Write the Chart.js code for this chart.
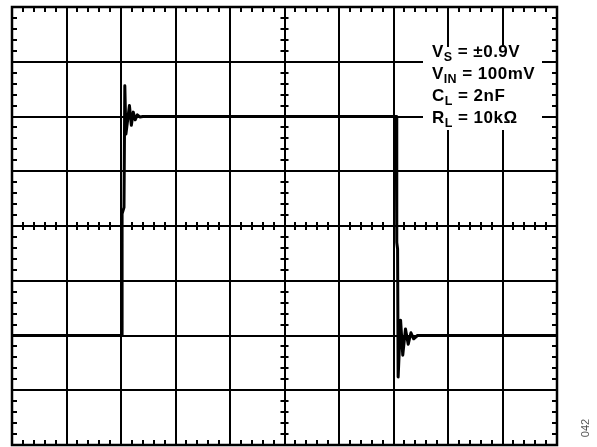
<!DOCTYPE html>
<html><head><meta charset="utf-8">
<script src="https://cdn.jsdelivr.net/npm/chart.js@4"></script>
<style>
html,body{margin:0;padding:0;background:#fff}
#wrap{position:relative;width:597px;height:447px;overflow:hidden;background:#fff}
canvas{position:absolute;left:0;top:0}
#legend{position:absolute;left:423px;top:47px;width:119px;height:83px;background:#fff;font-family:"Liberation Sans",Arial,sans-serif;font-weight:bold;font-size:17px;color:#000;letter-spacing:0.5px}
.ln{position:absolute;left:9px;white-space:nowrap;line-height:22px}
.sb{font-size:12.5px;position:relative;top:4px;letter-spacing:0.3px}
#fig{position:absolute;left:570px;top:422px;width:30px;height:12px;font-family:"Liberation Sans",Arial,sans-serif;font-size:11px;color:#555;line-height:12px;text-align:center;transform:rotate(-90deg);transform-origin:50% 50%}
</style>
</head><body>
<div id="wrap">
<canvas id="c" width="597" height="447"></canvas>
<div id="legend">
  <div class="ln" style="top:-6px">V<span class="sb">S</span> = ±0.9V</div>
  <div class="ln" style="top:16px">V<span class="sb">IN</span> = 100mV</div>
  <div class="ln" style="top:38px">C<span class="sb">L</span> = 2nF</div>
  <div class="ln" style="top:60px">R<span class="sb">L</span> = 10kΩ</div>
</div>
<div id="fig">042</div>
</div>
<script>
// Time axis in divisions (10 div), voltage axis in divisions (8 div)
const xTicks = [0,1,2,3,4,5,6,7,8,9,10];
const yTicks = [-4,-3,-2,-1,0,1,2,3,4];
// Output trace (divisions)
const traceX = [0, 2.02, 2.02, 2.055, 2.07, 2.09, 2.155, 2.19, 2.225, 2.26, 2.30, 2.35, 2.40,
                7.05, 7.06, 7.075, 7.085, 7.13, 7.17, 7.22, 7.27, 7.32, 7.37, 7.44, 10];
const traceY = [-2, -2, 0.22, 0.34, 2.56, 1.68, 2.20, 1.84, 2.08, 1.94, 2.03, 1.99, 2.0,
                2.0, -0.30, -0.42, -2.76, -1.72, -2.36, -1.88, -2.16, -1.95, -2.06, -2.0, -2.0];

const points = traceX.map((x,i)=>({x:x, y:traceY[i]}));

const scopePlugin = {
  id:'scope',
  beforeDatasetsDraw(chart){
    const {ctx, chartArea:a, scales:{x, y}} = chart;
    ctx.save();
    ctx.strokeStyle = '#000';
    ctx.lineWidth = 2;
    const L = 5, C = 4;
    const cx = x.getPixelForValue(5), cy = y.getPixelForValue(0);
    ctx.beginPath();
    for (let i = 0; i < xTicks.length - 1; i++) {
      for (let j = 1; j < 5; j++) {
        const px = Math.round(x.getPixelForValue(xTicks[i] + j/5));
        ctx.moveTo(px, a.top); ctx.lineTo(px, a.top + L);
        ctx.moveTo(px, a.bottom); ctx.lineTo(px, a.bottom - L);
        ctx.moveTo(px, cy - C); ctx.lineTo(px, cy + C);
      }
    }
    for (let i = 0; i < yTicks.length - 1; i++) {
      for (let j = 1; j < 5; j++) {
        const py = Math.round(y.getPixelForValue(yTicks[i] + j/5));
        ctx.moveTo(a.left, py); ctx.lineTo(a.left + L, py);
        ctx.moveTo(a.right, py); ctx.lineTo(a.right - L, py);
        ctx.moveTo(cx - C, py); ctx.lineTo(cx + C, py);
      }
    }
    ctx.stroke();
    ctx.lineWidth = 2.5;
    ctx.strokeRect(a.left, a.top, a.right - a.left, a.bottom - a.top);
    ctx.restore();
  }
};

new Chart(document.getElementById('c'), {
  type:'line',
  data:{datasets:[{data:points, borderColor:'#000', borderWidth:3, pointRadius:0, tension:0, fill:false, borderJoinStyle:'round'}]},
  options:{
    responsive:false, animation:false, devicePixelRatio:1,
    layout:{padding:{left:12, top:7, right:40, bottom:2}},
    plugins:{legend:{display:false}, tooltip:{enabled:false}},
    scales:{
      x:{type:'linear', min:0, max:10, ticks:{stepSize:1, display:false},
         grid:{color:'#000', lineWidth:2, drawTicks:false}, border:{display:false},
         afterFit(s){ s.height = 0; }},
      y:{type:'linear', min:-4, max:4, ticks:{stepSize:1, display:false},
         grid:{color:'#000', lineWidth:2, drawTicks:false}, border:{display:false},
         afterFit(s){ s.width = 0; }}
    }
  },
  plugins:[scopePlugin]
});
</script>
</body></html>
